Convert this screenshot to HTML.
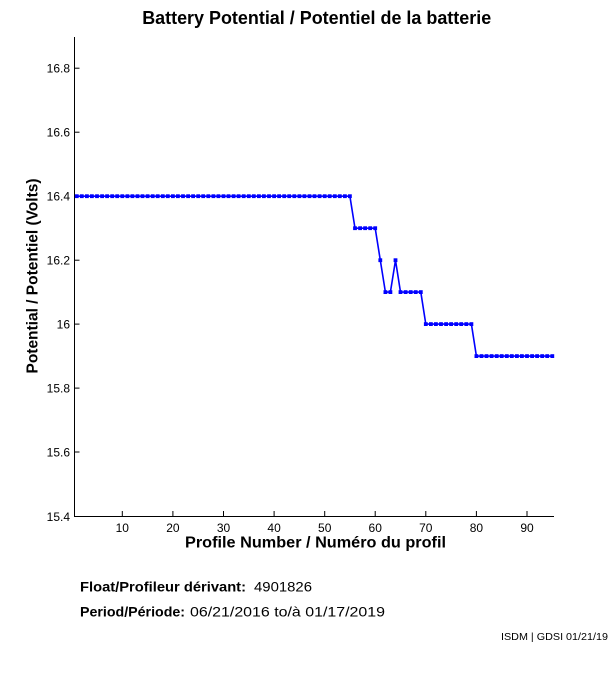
<!DOCTYPE html>
<html>
<head>
<meta charset="utf-8">
<style>
  html, body { margin:0; padding:0; background:#ffffff; }
  body { width:611px; height:675px; overflow:hidden; }
  svg { display:block; }
  text { font-family: "Liberation Sans", Arial, sans-serif; fill:#000; }
</style>
</head>
<body>
<svg width="611" height="675" viewBox="0 0 611 675" xmlns="http://www.w3.org/2000/svg">
  <defs>
    <marker id="sq" markerUnits="userSpaceOnUse" markerWidth="5" markerHeight="5" refX="2.5" refY="2.5" viewBox="0 0 5 5">
      <rect x="0.6" y="0.6" width="3.8" height="3.8" fill="#0000ff"/>
    </marker>
  </defs>

  <!-- Title -->
  <text x="316.7" y="24" font-size="18" font-weight="bold" text-anchor="middle" textLength="349" lengthAdjust="spacingAndGlyphs">Battery Potential / Potentiel de la batterie</text>

  <!-- Axes -->
  <line x1="74.5" y1="37" x2="74.5" y2="516.5" stroke="#000" stroke-width="1"/>
  <line x1="74" y1="516.5" x2="554" y2="516.5" stroke="#000" stroke-width="1"/>

  <!-- Y ticks -->
  <g stroke="#000" stroke-width="1">
    <line x1="74.5" y1="452.0" x2="79.5" y2="452.0"/>
    <line x1="74.5" y1="388.1" x2="79.5" y2="388.1"/>
    <line x1="74.5" y1="324.1" x2="79.5" y2="324.1"/>
    <line x1="74.5" y1="260.2" x2="79.5" y2="260.2"/>
    <line x1="74.5" y1="196.2" x2="79.5" y2="196.2"/>
    <line x1="74.5" y1="132.2" x2="79.5" y2="132.2"/>
    <line x1="74.5" y1="68.2" x2="79.5" y2="68.2"/>
  </g>
  <g font-size="12" text-anchor="end">
    <text x="70" y="521">15.4</text>
    <text x="70" y="456.5">15.6</text>
    <text x="70" y="392.6">15.8</text>
    <text x="70" y="328.6">16</text>
    <text x="70" y="264.7">16.2</text>
    <text x="70" y="200.7">16.4</text>
    <text x="70" y="136.7">16.6</text>
    <text x="70" y="72.7">16.8</text>
  </g>

  <!-- X ticks -->
  <g stroke="#000" stroke-width="1">
    <line x1="122.3" y1="516.5" x2="122.3" y2="511"/>
    <line x1="172.9" y1="516.5" x2="172.9" y2="511"/>
    <line x1="223.5" y1="516.5" x2="223.5" y2="511"/>
    <line x1="274.1" y1="516.5" x2="274.1" y2="511"/>
    <line x1="324.7" y1="516.5" x2="324.7" y2="511"/>
    <line x1="375.2" y1="516.5" x2="375.2" y2="511"/>
    <line x1="425.8" y1="516.5" x2="425.8" y2="511"/>
    <line x1="476.4" y1="516.5" x2="476.4" y2="511"/>
    <line x1="527.0" y1="516.5" x2="527.0" y2="511"/>
  </g>
  <g font-size="12" text-anchor="middle">
    <text x="122.3" y="532">10</text>
    <text x="172.9" y="532">20</text>
    <text x="223.5" y="532">30</text>
    <text x="274.1" y="532">40</text>
    <text x="324.7" y="532">50</text>
    <text x="375.2" y="532">60</text>
    <text x="425.8" y="532">70</text>
    <text x="476.4" y="532">80</text>
    <text x="527.0" y="532">90</text>
  </g>

  <!-- Axis labels -->
  <text x="315.5" y="547.5" font-size="16" font-weight="bold" text-anchor="middle" textLength="261" lengthAdjust="spacingAndGlyphs">Profile Number / Numéro du profil</text>
  <text transform="translate(37.5,276) rotate(-90)" x="0" y="0" font-size="16" font-weight="bold" text-anchor="middle" textLength="195" lengthAdjust="spacingAndGlyphs">Potential / Potentiel (Volts)</text>

  <!-- Data series -->
  <polyline fill="none" stroke="#0000ff" stroke-width="1.6" stroke-linejoin="miter"
    marker-start="url(#sq)" marker-mid="url(#sq)" marker-end="url(#sq)"
    points="
76.8,196.2 81.8,196.2 86.9,196.2 91.9,196.2 97.0,196.2 102.1,196.2 107.1,196.2 112.2,196.2 117.2,196.2 122.3,196.2
127.4,196.2 132.4,196.2 137.5,196.2 142.5,196.2 147.6,196.2 152.7,196.2 157.7,196.2 162.8,196.2 167.8,196.2 172.9,196.2
177.9,196.2 183.0,196.2 188.1,196.2 193.1,196.2 198.2,196.2 203.2,196.2 208.3,196.2 213.4,196.2 218.4,196.2 223.5,196.2
228.5,196.2 233.6,196.2 238.6,196.2 243.7,196.2 248.8,196.2 253.8,196.2 258.9,196.2 263.9,196.2 269.0,196.2 274.1,196.2
279.1,196.2 284.2,196.2 289.2,196.2 294.3,196.2 299.4,196.2 304.4,196.2 309.5,196.2 314.5,196.2 319.6,196.2 324.7,196.2
329.7,196.2 334.8,196.2 339.8,196.2 344.9,196.2 349.9,196.2
355.0,228.2 360.1,228.2 365.1,228.2 370.2,228.2 375.2,228.2
380.3,260.2
385.4,292.1 390.4,292.1
395.5,260.2
400.5,292.1 405.6,292.1 410.7,292.1 415.7,292.1 420.8,292.1
425.8,324.1 430.9,324.1 435.9,324.1 441.0,324.1 446.1,324.1 451.1,324.1 456.2,324.1 461.2,324.1 466.3,324.1 471.4,324.1
476.4,356.1 481.5,356.1 486.5,356.1 491.6,356.1 496.7,356.1 501.7,356.1 506.8,356.1 511.8,356.1 516.9,356.1 521.9,356.1
527.0,356.1 532.1,356.1 537.1,356.1 542.2,356.1 547.2,356.1 552.3,356.1"/>

  <!-- Footer info -->
  <text x="80" y="591.5" font-size="14" font-weight="bold" textLength="166" lengthAdjust="spacingAndGlyphs">Float/Profileur dérivant:</text>
  <text x="254" y="591.5" font-size="14" textLength="58" lengthAdjust="spacingAndGlyphs">4901826</text>
  <text x="80" y="616.5" font-size="14" font-weight="bold" textLength="105" lengthAdjust="spacingAndGlyphs">Period/Période:</text>
  <text x="190" y="616.5" font-size="14" textLength="195" lengthAdjust="spacingAndGlyphs">06/21/2016  to/à  01/17/2019</text>

  <text x="501" y="640" font-size="10.5" textLength="107" lengthAdjust="spacingAndGlyphs">ISDM | GDSI 01/21/19</text>
</svg>
</body>
</html>
